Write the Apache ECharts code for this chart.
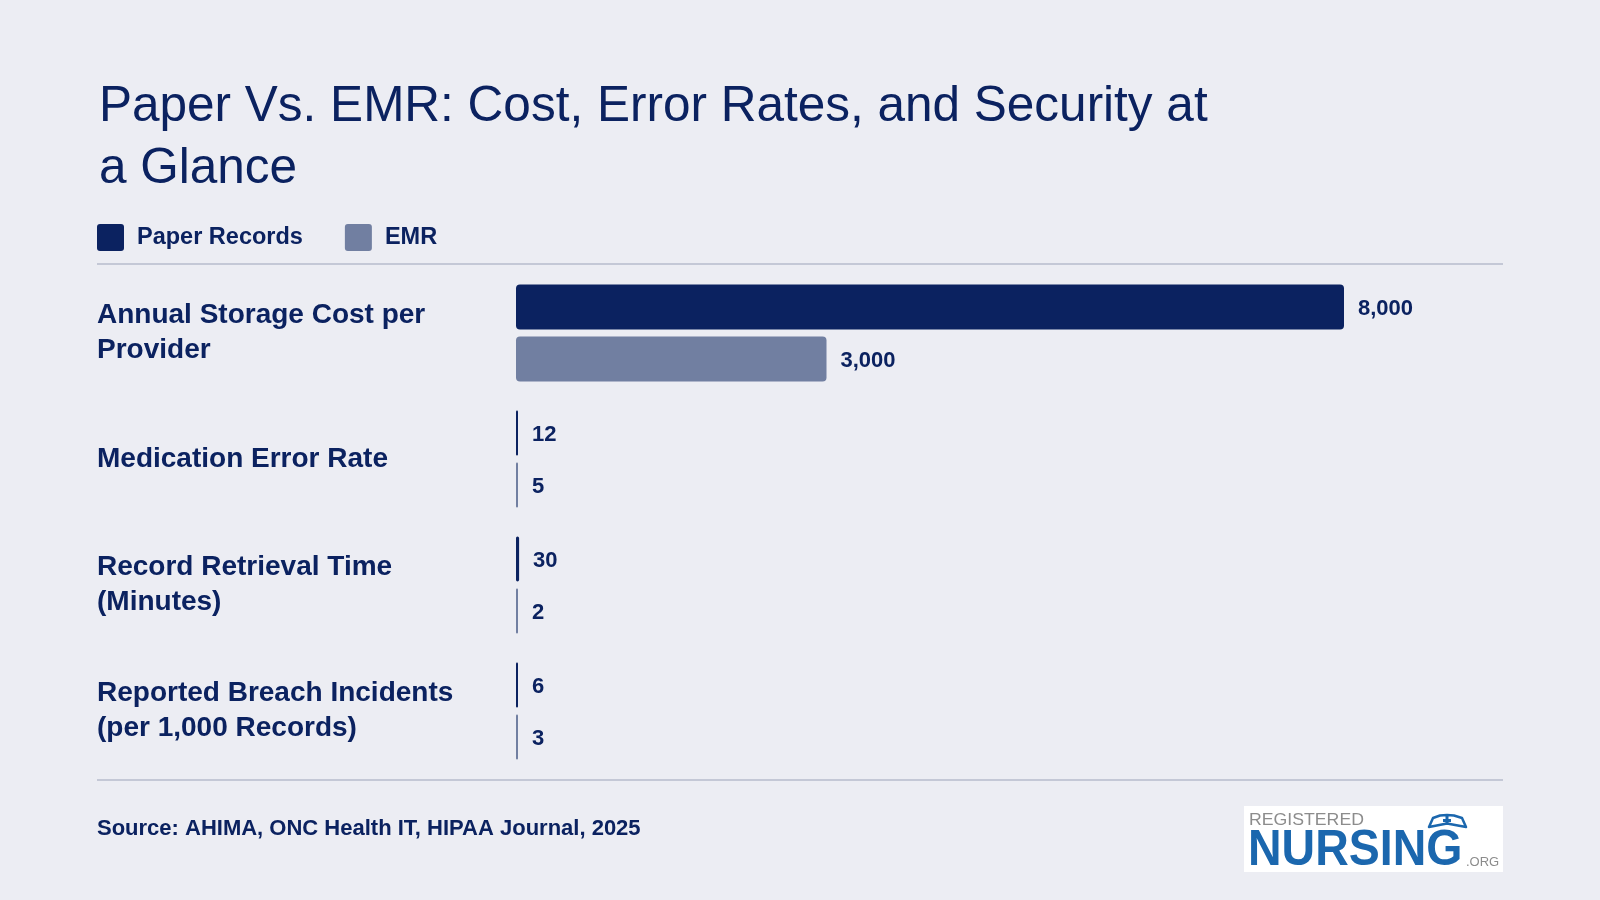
<!DOCTYPE html>
<html>
<head>
<meta charset="utf-8">
<title>Paper Vs. EMR</title>
<script src="https://cdn.jsdelivr.net/npm/echarts@6/dist/echarts.min.js"></script>
<style>
  html, body { margin: 0; padding: 0; background: #ecedf3; }
  #chart { width: 1600px; height: 900px; }
</style>
</head>
<body>
<div id="chart"></div>
<script>
var categories = [
  'Annual Storage Cost per Provider',
  'Medication Error Rate',
  'Record Retrieval Time (Minutes)',
  'Reported Breach Incidents (per 1,000 Records)'
];
var seriesNames = ['Paper Records', 'EMR'];
var paperRecords = [8000, 12, 30, 6];
var emrRecords = [3000, 5, 2, 3];

var navy = '#0b2260';
var slate = '#717fa1';
var logoBlue = '#1b67ae';
var font = 'Liberation Sans';

var chart = echarts.init(document.getElementById('chart'));

function valueLabel() {
  return {
    show: true,
    position: 'right',
    distance: 14,
    offset: [0, 2],
    fontFamily: font,
    fontSize: 22,
    fontWeight: 'bold',
    color: navy,
    formatter: function (p) { return p.value.toLocaleString('en-US'); }
  };
}

chart.setOption({
  backgroundColor: '#ecedf3',
  title: {
    text: 'Paper Vs. EMR: Cost, Error Rates, and Security at\na Glance',
    left: 94,
    top: 71,
    textStyle: {
      fontFamily: font,
      fontSize: 49.5,
      fontWeight: 'normal',
      color: navy,
      lineHeight: 62
    }
  },
  legend: {
    left: 97,
    top: 224,
    padding: 0,
    itemWidth: 27,
    itemHeight: 27,
    itemGap: 42,
    icon: 'path://M3,0 H24 A3,3 0 0 1 27,3 V24 A3,3 0 0 1 24,27 H3 A3,3 0 0 1 0,24 V3 A3,3 0 0 1 3,0 Z',
    data: seriesNames,
    textStyle: {
      fontFamily: font,
      fontSize: 23.5,
      fontWeight: 'bold',
      color: navy,
      padding: [0, 0, 0, 8]
    }
  },
  grid: { left: 516, right: 256, top: 270, bottom: 126 },
  xAxis: {
    type: 'value',
    min: 0,
    max: 8000,
    show: false
  },
  yAxis: {
    type: 'category',
    data: categories,
    inverse: true,
    axisLine: { show: false },
    axisTick: { show: false },
    splitLine: { show: false },
    axisLabel: {
      margin: 419,
      align: 'left',
      fontFamily: font,
      fontSize: 28,
      fontWeight: 'bold',
      color: navy,
      lineHeight: 35,
      width: 395,
      overflow: 'break',
      padding: [6, 0, 0, 0]
    }
  },
  series: [
    {
      name: seriesNames[0],
      type: 'bar',
      data: paperRecords,
      barWidth: 45,
      barGap: '16%',
      barMinHeight: 2,
      itemStyle: { color: navy, borderRadius: 4 },
      label: valueLabel()
    },
    {
      name: seriesNames[1],
      type: 'bar',
      data: emrRecords,
      barWidth: 45,
      barGap: '16%',
      barMinHeight: 2,
      itemStyle: { color: slate, borderRadius: 4 },
      label: valueLabel()
    }
  ],
  graphic: [
    { type: 'line', shape: { x1: 97, y1: 264, x2: 1503, y2: 264 }, style: { stroke: '#c4c8d6', lineWidth: 2 } },
    { type: 'line', shape: { x1: 97, y1: 780, x2: 1503, y2: 780 }, style: { stroke: '#c4c8d6', lineWidth: 2 } },
    {
      type: 'text', left: 97, top: 818,
      style: {
        text: 'Source: AHIMA, ONC Health IT, HIPAA Journal, 2025',
        fontFamily: font, fontSize: 22, fontWeight: 'bold', fill: navy
      }
    },
    // logo
    { type: 'rect', shape: { x: 1244, y: 806, width: 259, height: 66 }, style: { fill: '#ffffff' } },
    {
      type: 'text', x: 1249, y: 812,
      style: { text: 'REGISTERED', fontFamily: font, fontSize: 17, fill: '#8c8c8c' },
      scaleX: 1.04
    },
    {
      type: 'text', x: 1248, y: 826,
      style: { text: 'NURSING', fontFamily: font, fontSize: 50, fontWeight: 'bold', fill: logoBlue },
      scaleX: 0.93
    },
    {
      type: 'text', x: 1466, y: 856,
      style: { text: '.ORG', fontFamily: font, fontSize: 13, fill: '#8c8c8c' }
    },
    {
      type: 'polygon',
      shape: { points: [[1429, 827], [1433, 818], [1440, 815.5], [1447, 815], [1454, 815.5], [1462, 818], [1466, 827], [1447, 823.5]] },
      style: { stroke: logoBlue, lineWidth: 2.5, fill: '#ffffff', lineJoin: 'round' }
    },
    { type: 'rect', shape: { x: 1445.5, y: 816, width: 3, height: 9 }, style: { fill: logoBlue } },
    { type: 'rect', shape: { x: 1443, y: 819, width: 8, height: 3 }, style: { fill: logoBlue } }
  ]
});
</script>
</body>
</html>
